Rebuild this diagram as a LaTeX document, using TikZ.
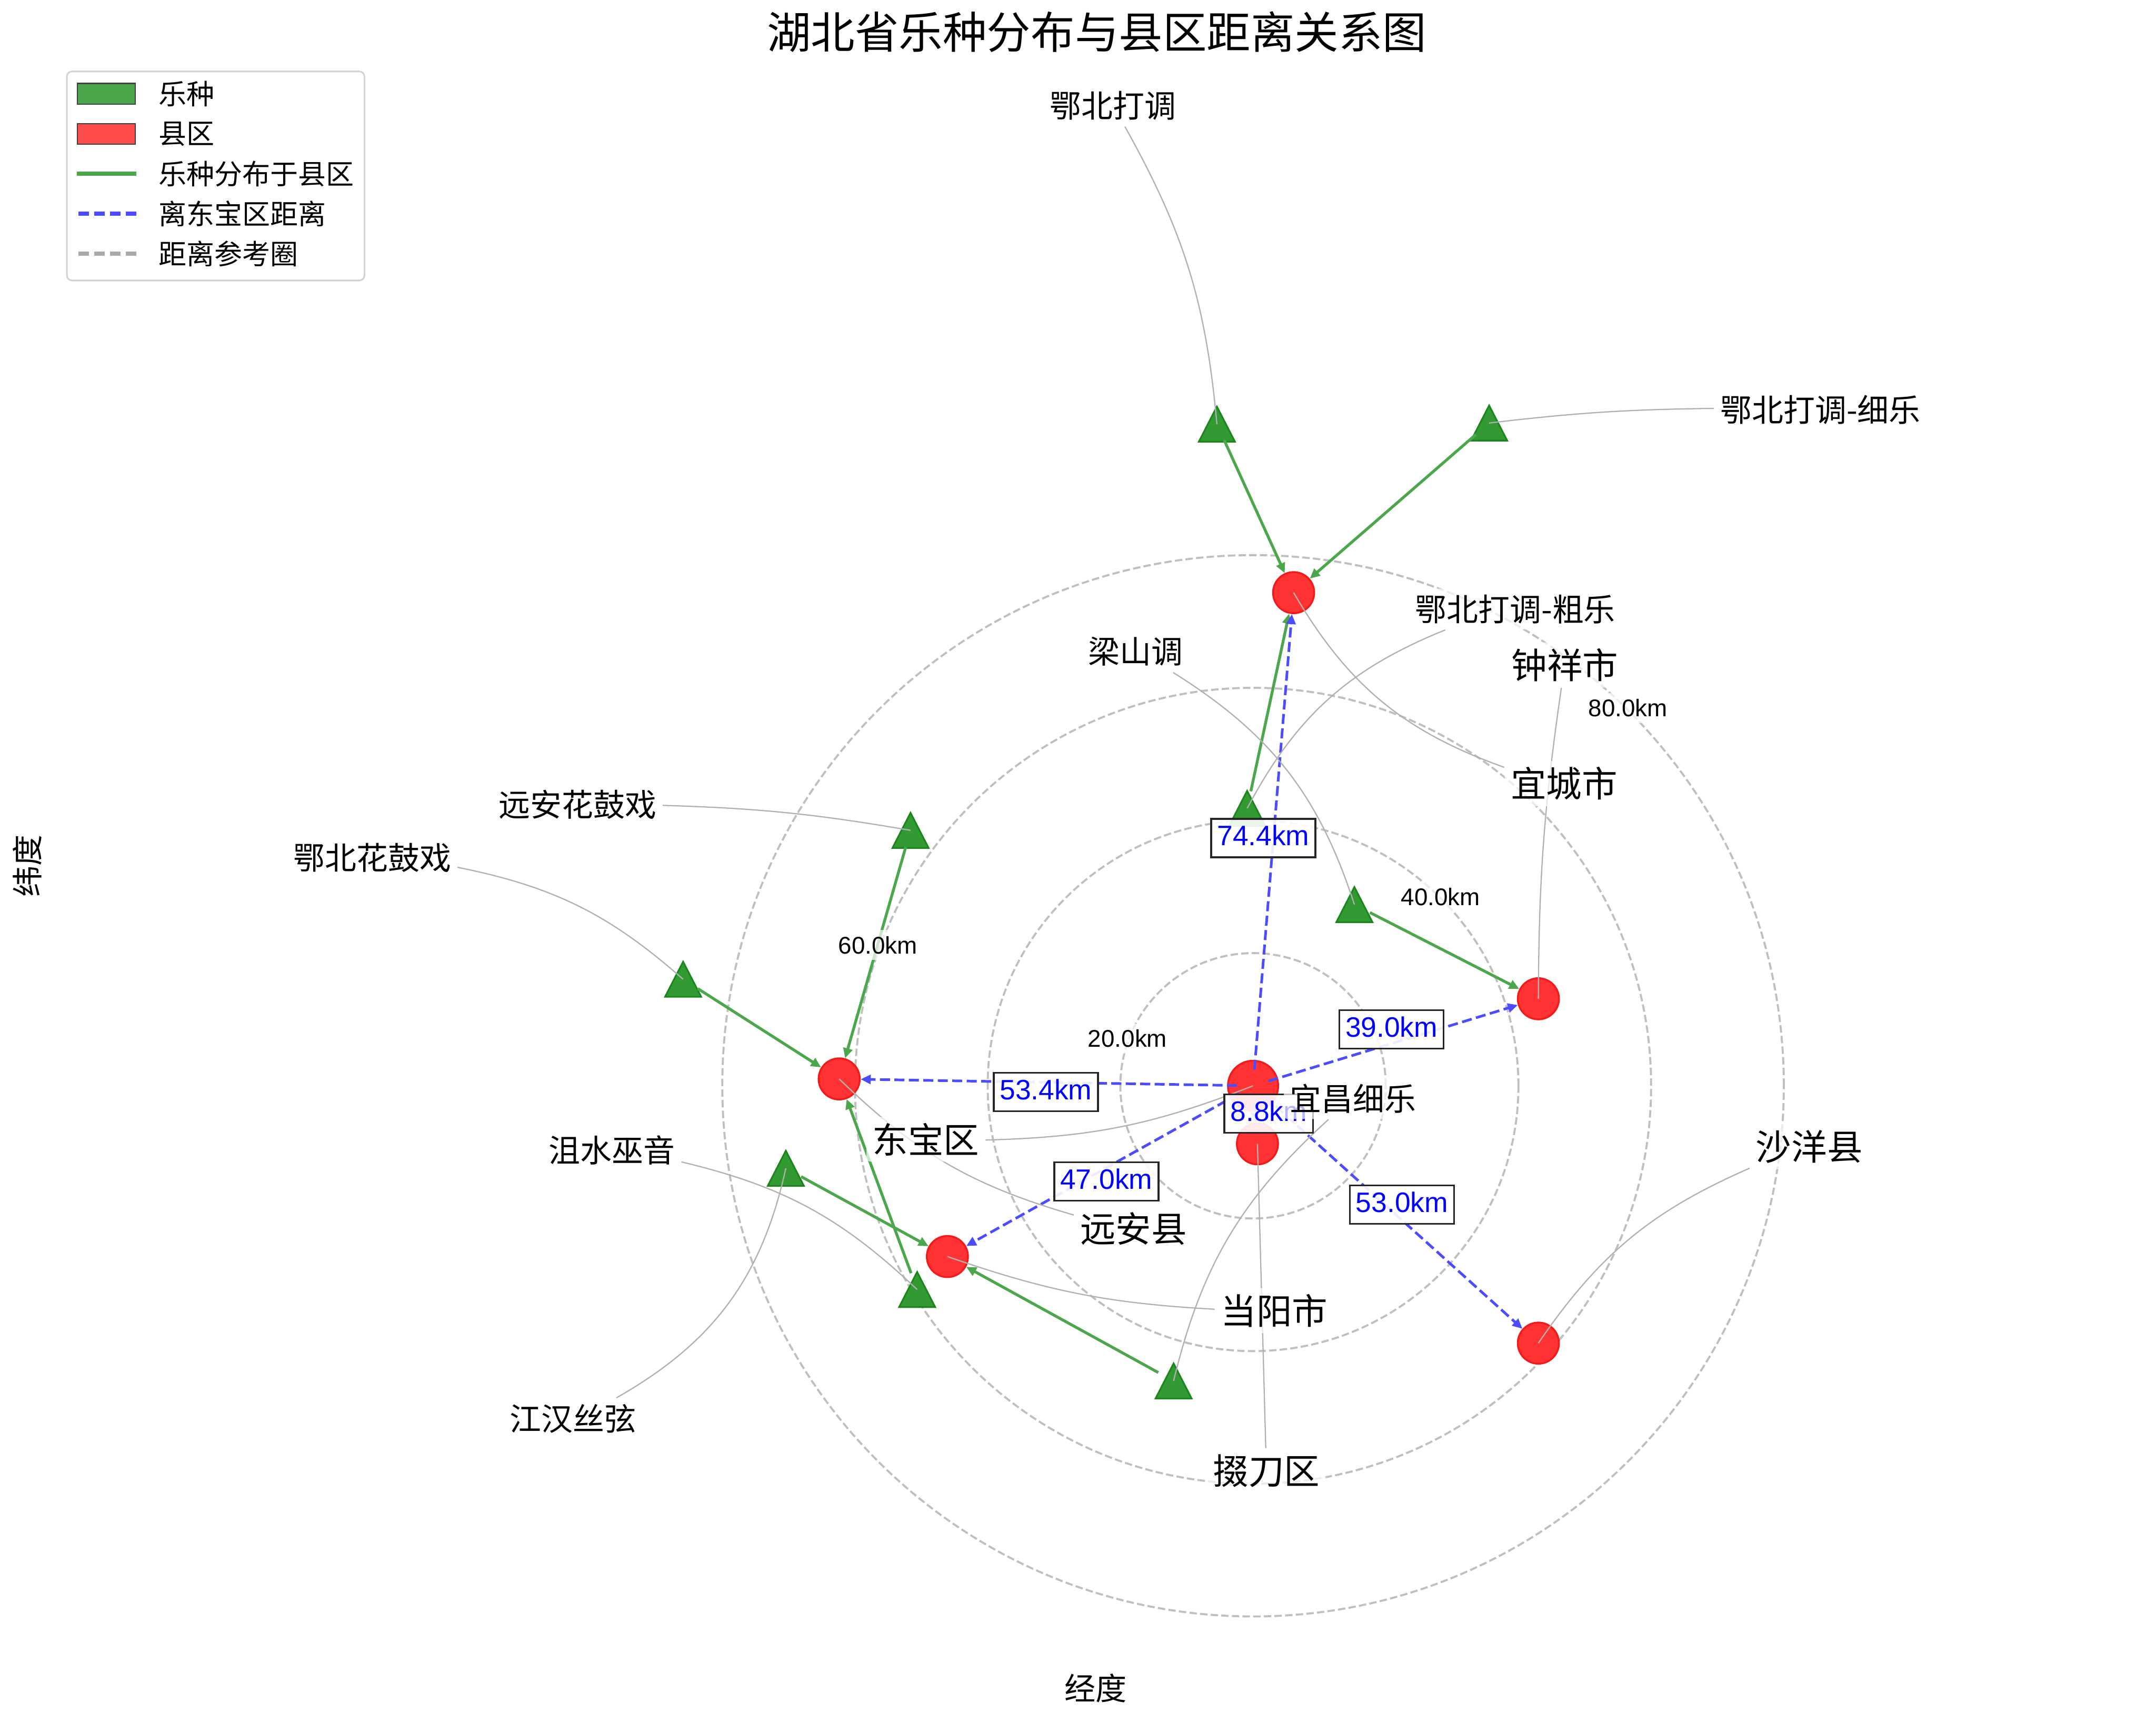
\documentclass[tikz,border=0pt]{standalone}
\usepackage{fontspec}
\setmainfont{Liberation Sans}
\newfontfamily\cjk{Noto Sans CJK SC}
\usetikzlibrary{arrows.meta}
\definecolor{cred}{RGB}{255,51,51}
\definecolor{credge}{RGB}{245,25,25}
\definecolor{tfill}{RGB}{51,153,51}
\definecolor{tedge}{RGB}{25,135,25}
\definecolor{garrow}{RGB}{76,166,76}
\definecolor{barrow}{RGB}{76,76,255}
\definecolor{ringc}{RGB}{191,191,191}
\definecolor{leadc}{RGB}{176,176,176}
\definecolor{legedge}{RGB}{210,210,210}
\definecolor{lred}{RGB}{255,76,76}
\definecolor{lgray}{RGB}{170,170,170}
\pgfdeclarelayer{bg}
\pgfdeclarelayer{labels}
\pgfsetlayers{bg,main,labels}
\begin{document}
\begin{tikzpicture}[x=0.6846pt,y=0.6846pt,
 county/.style={circle, fill=cred, draw=credge, line width=0.9pt, minimum size=20.5pt, inner sep=0pt},
 hubnode/.style={county, minimum size=25pt},
 music/.style={circle, minimum size=17pt, inner sep=0pt},
 tri/.style={fill=tfill, draw=tedge, line width=0.8pt},
 ring/.style={draw=ringc, line width=1pt, dash pattern=on 3.7pt off 1.6pt},
 flow/.style={draw=garrow, line width=1.4pt, -{Triangle[length=5pt,width=4.5pt]}},
 dist/.style={draw=barrow, line width=1.3pt, dash pattern=on 5pt off 2.2pt, -{Triangle[length=5pt,width=4.5pt]}, shorten <=8pt},
 leader/.style={draw=leadc, line width=0.6pt},
 namelab/.style={fill=white, fill opacity=0.7, text opacity=1, inner sep=3pt, rounded corners=2pt, font=\cjk\fontsize{15.7pt}{18pt}\selectfont},
 citylab/.style={namelab, font=\cjk\fontsize{17.7pt}{20pt}\selectfont},
 distlab/.style={draw=black!85, line width=0.9pt, fill=white, fill opacity=0.9, draw opacity=1, text opacity=1, text=blue, font=\fontsize{14pt}{16pt}\selectfont, inner xsep=3pt, inner ysep=2.8pt, text height=10.5pt, text depth=3pt},
 ringlab/.style={fill=white, fill opacity=0.7, text opacity=1, inner sep=3pt, font=\fontsize{12pt}{14pt}\selectfont},
 legtext/.style={anchor=west, font=\cjk\fontsize{13.9pt}{16pt}\selectfont, inner sep=0pt},
]
\useasboundingbox (0,0) rectangle (1568,-1253);

% county nodes
\node[hubnode] (hub) at (911.3,-789.8) {};
\node[county] (yicheng) at (940.8,-431.1) {};
\node[county] (zhongxiang) at (1118.8,-726.5) {};
\node[county] (shayang) at (1118.8,-977) {};
\node[county] (yuanan) at (610.3,-784.8) {};
\node[county] (dangyang) at (689,-914) {};
\node[county] (duodao) at (914.5,-832) {};

% reference rings
\begin{pgfonlayer}{bg}
\foreach \r in {96.5,193,289.5,386} \draw[ring] (hub.center) circle[radius=\r];
\end{pgfonlayer}

% music nodes
\node[music] (dadiao) at (885,-308.5) {};
\node[music] (xiyue) at (1083,-307.7) {};
\node[music] (cuyue) at (907,-588) {};
\node[music] (liangshan) at (985,-658) {};
\node[music] (yahuagu) at (662.2,-604) {};
\node[music] (ebhuagu) at (496.8,-712.3) {};
\node[music] (jushui) at (667,-938) {};
\node[music] (jianghan) at (571.5,-849.8) {};
\node[music] (ycxiyue) at (853.5,-1004.5) {};
\foreach \t in {dadiao,xiyue,cuyue,liangshan,yahuagu,ebhuagu,jushui,jianghan,ycxiyue}
  \filldraw[tri] ([yshift=8.76pt]\t.center) -- ([shift={(9pt,-8.76pt)}]\t.center) -- ([shift={(-9pt,-8.76pt)}]\t.center) -- cycle;

% distribution arrows
\draw[flow] (dadiao) -- (yicheng);
\draw[flow] (xiyue) -- (yicheng);
\draw[flow] (cuyue) -- (yicheng);
\draw[flow] (liangshan) -- (zhongxiang);
\draw[flow] (yahuagu) -- (yuanan);
\draw[flow] (ebhuagu) -- (yuanan);
\draw[flow] (jushui) -- (yuanan);
\draw[flow] (jianghan) -- (dangyang);
\draw[flow] (ycxiyue) -- (dangyang);

% distance arrows
\draw[dist] (hub.center) -- (yicheng);
\draw[dist] (hub.center) -- (zhongxiang);
\draw[dist] (hub.center) -- (yuanan);
\draw[dist] (hub.center) -- (dangyang);
\draw[dist] (hub.center) -- (shayang);
\draw[dist] (hub.center) -- (duodao);

% labels layer
\begin{pgfonlayer}{labels}
\node[distlab] (dyicheng) at (918.7,-609.6) {74.4km};
\node[distlab] (dzhongxiang) at (1012,-748.8) {39.0km};
\node[distlab] (dyuanan) at (760.6,-794.3) {53.4km};
\node[distlab] (ddangyang) at (804.6,-859.4) {47.0km};
\node[distlab] (dshayang) at (1019.6,-876.3) {53.0km};
\node[distlab] (dduodao) at (922.7,-810) {8.8km};

\node[namelab] (ldadiao) at (809.3,-76.9) {鄂北打调};
\node[namelab] (lxiyue) at (1324,-298) {鄂北打调-细乐};
\node[namelab] (lcuyue) at (1102,-443) {鄂北打调-粗乐};
\node[namelab] (lliangshan) at (826,-474) {梁山调};
\node[namelab] (lyahuagu) at (420,-585.4) {远安花鼓戏};
\node[namelab] (lebhuagu) at (270.7,-624) {鄂北花鼓戏};
\node[namelab] (ljushui) at (445,-836.7) {沮水巫音};
\node[namelab] (ljianghan) at (416.6,-1032) {江汉丝弦};
\node[namelab] (lycxiyue) at (984,-799) {宜昌细乐};
\node[citylab] (lhub) at (673.3,-828.7) {东宝区};
\node[citylab] (lyicheng) at (1137.5,-570) {宜城市};
\node[citylab] (lzhongxiang) at (1138,-483.7) {钟祥市};
\node[citylab] (lshayang) at (1315.8,-834) {沙洋县};
\node[citylab] (lyuanan) at (824.4,-893.8) {远安县};
\node[citylab] (ldangyang) at (926.8,-953.4) {当阳市};
\node[citylab] (lduodao) at (921,-1070) {掇刀区};

\node[ringlab] (r20) at (820,-755.4) {20.0km};
\node[ringlab] (r40) at (1047.7,-652.3) {40.0km};
\node[ringlab] (r60) at (638.4,-687.4) {60.0km};
\node[ringlab] (r80) at (1184,-515) {80.0km};
\end{pgfonlayer}

% leader lines
\draw[leader] (ldadiao) to[bend left=12] (dadiao.center);
\draw[leader] (lxiyue) to[bend right=3] (xiyue.center);
\draw[leader] (lcuyue) to[bend right=20] (cuyue.center);
\draw[leader] (lliangshan) to[bend left=20] (liangshan.center);
\draw[leader] (lyahuagu) to[bend left=4] (yahuagu.center);
\draw[leader] (lebhuagu) to[bend left=15] (ebhuagu.center);
\draw[leader] (ljushui) to[bend left=15] (jushui.center);
\draw[leader] (ljianghan) to[bend right=24] (jianghan.center);
\draw[leader] (lycxiyue) to[bend right=17] (ycxiyue.center);
\draw[leader] (lhub) to[bend right=10] (hub.center);
\draw[leader] (lyuanan) to[bend left=14] (yuanan.center);
\draw[leader] (ldangyang) to[bend left=8] (dangyang.center);
\draw[leader] (lduodao) -- (duodao.center);
\draw[leader] (lshayang) to[bend right=16] (shayang.center);
\draw[leader] (lzhongxiang) to[bend right=4] (zhongxiang.center);
\draw[leader] (lyicheng) to[bend left=20] (yicheng.center);

% title and axis labels
\node[font=\cjk\fontsize{21.9pt}{24pt}\selectfont] (title) at (797.7,-23.2) {湖北省乐种分布与县区距离关系图};
\node[font=\cjk\fontsize{15.5pt}{18pt}\selectfont] (xlab) at (797,-1228) {经度};
\node[font=\cjk\fontsize{15.5pt}{18pt}\selectfont, rotate=90] (ylab) at (19.7,-630) {纬度};

% legend
\node[draw=legedge, line width=0.8pt, fill=white, fill opacity=0.8, rounded corners=2.5pt, minimum width=148.1pt, minimum height=104.1pt, inner sep=0pt] (legend) at (156.85,-128) {};
\filldraw[fill=garrow, draw=black!75, line width=0.7pt] (56.3,-60.8) rectangle (98.4,-75.8);
\filldraw[fill=lred, draw=black!75, line width=0.7pt] (56.3,-89.9) rectangle (98.4,-104.9);
\draw[garrow, line width=2pt] (56,-126.4) -- (99,-126.4);
\draw[barrow, line width=2pt, dash pattern=on 5.3pt off 2.6pt] (57,-155.5) -- (99,-155.5);
\draw[lgray, line width=2pt, dash pattern=on 5.3pt off 2.6pt] (57,-184.6) -- (99,-184.6);
\node[legtext] (lg1) at (115,-68.3) {乐种};
\node[legtext] (lg2) at (115,-97.4) {县区};
\node[legtext] (lg3) at (115,-126.4) {乐种分布于县区};
\node[legtext] (lg4) at (115,-155.5) {离东宝区距离};
\node[legtext] (lg5) at (115,-184.6) {距离参考圈};
\end{tikzpicture}
\end{document}
